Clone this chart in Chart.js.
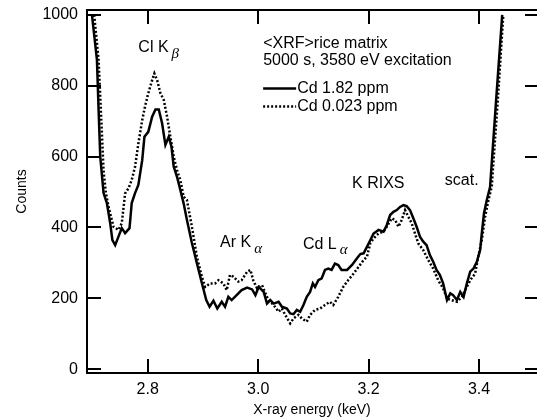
<!DOCTYPE html>
<html>
<head>
<meta charset="utf-8">
<script src="https://cdn.jsdelivr.net/npm/chart.js@4.4.1/dist/chart.umd.min.js"></script>
<style>
  html, body { margin: 0; padding: 0; background: #fff; }
  canvas { display: block; }
</style>
</head>
<body>
<canvas id="chart" width="537" height="420"></canvas>
<script>
// Cd 1.82 ppm (solid)
const solidEnergy = [
  2.699, 2.708, 2.711, 2.714, 2.720, 2.726, 2.732, 2.736, 2.741, 2.747, 2.753, 2.759, 2.767, 2.771,
  2.777, 2.783, 2.790, 2.794, 2.801, 2.808, 2.814, 2.820, 2.826, 2.832, 2.838, 2.843, 2.847, 2.853,
  2.859, 2.865, 2.871, 2.880, 2.889, 2.898, 2.906, 2.912, 2.919, 2.926, 2.934, 2.940, 2.946, 2.952,
  2.961, 2.970, 2.980, 2.989, 2.995, 3.001, 3.010, 3.016, 3.022, 3.028, 3.037, 3.043, 3.052, 3.058,
  3.064, 3.070, 3.076, 3.082, 3.088, 3.094, 3.099, 3.103, 3.109, 3.115, 3.121, 3.127, 3.133, 3.139,
  3.145, 3.151, 3.161, 3.170, 3.179, 3.185, 3.191, 3.197, 3.203, 3.209, 3.218, 3.227, 3.233, 3.239,
  3.245, 3.251, 3.257, 3.263, 3.269, 3.275, 3.281, 3.287, 3.293, 3.299, 3.305, 3.311, 3.317, 3.323,
  3.329, 3.335, 3.342, 3.348, 3.353, 3.360, 3.366, 3.372, 3.378, 3.384, 3.390, 3.396, 3.402, 3.405,
  3.409, 3.414, 3.420, 3.431, 3.442
];
const solidCounts = [
  1000, 873, 732, 600, 497, 469, 412, 364, 350, 374, 398, 384, 398, 469,
  497, 520, 590, 656, 670, 713, 733, 733, 694, 633, 656, 628, 572, 543,
  506, 468, 421, 356, 299, 243, 195, 176, 193, 171, 190, 176, 204, 195,
  209, 223, 230, 225, 209, 232, 218, 185, 195, 185, 190, 176, 171, 157,
  155, 167, 162, 181, 204, 218, 242, 232, 251, 256, 280, 284, 280, 298,
  294, 280, 280, 294, 313, 325, 327, 345, 364, 383, 393, 388, 407, 435,
  444, 449, 458, 463, 460, 449, 426, 402, 374, 360, 350, 322, 303, 280,
  266, 242, 195, 214, 209, 195, 218, 204, 242, 275, 284, 303, 336, 383,
  440, 477, 514, 760, 1000
];

// Cd 0.023 ppm (dotted)
const dottedEnergy = [
  2.703, 2.711, 2.716, 2.720, 2.724, 2.729, 2.738, 2.747, 2.753, 2.759, 2.765, 2.771, 2.777, 2.783,
  2.790, 2.795, 2.801, 2.808, 2.812, 2.817, 2.823, 2.829, 2.835, 2.841, 2.847, 2.853, 2.859, 2.865,
  2.871, 2.880, 2.889, 2.898, 2.904, 2.913, 2.922, 2.928, 2.937, 2.943, 2.949, 2.955, 2.964, 2.970,
  2.980, 2.986, 2.991, 2.998, 3.007, 3.016, 3.019, 3.028, 3.037, 3.043, 3.049, 3.058, 3.064, 3.073,
  3.079, 3.088, 3.094, 3.103, 3.112, 3.121, 3.130, 3.136, 3.145, 3.154, 3.163, 3.173, 3.182, 3.191,
  3.197, 3.203, 3.209, 3.218, 3.227, 3.233, 3.242, 3.248, 3.254, 3.260, 3.266, 3.272, 3.278, 3.284,
  3.290, 3.299, 3.308, 3.317, 3.326, 3.335, 3.342, 3.350, 3.360, 3.369, 3.375, 3.384, 3.393, 3.398,
  3.405, 3.411, 3.417, 3.423, 3.434, 3.444
];
const dottedCounts = [
  1000, 873, 700, 560, 500, 458, 402, 393, 412, 496, 510, 534, 571, 637,
  703, 741, 779, 816, 835, 816, 779, 760, 713, 656, 600, 562, 534, 487,
  477, 402, 317, 261, 232, 242, 242, 251, 242, 223, 266, 261, 247, 251,
  275, 280, 251, 228, 237, 204, 195, 181, 162, 171, 153, 129, 143, 153,
  143, 134, 153, 167, 171, 181, 190, 181, 204, 232, 251, 270, 289, 308,
  317, 355, 369, 383, 388, 402, 426, 421, 402, 421, 449, 430, 412, 383,
  355, 336, 308, 284, 251, 228, 199, 195, 190, 204, 223, 251, 270, 313,
  364, 430, 477, 515, 760, 1000
];

const seriesLabels = ['Cd 1.82 ppm', 'Cd 0.023 ppm'];
const xTicks = [2.8, 3.0, 3.2, 3.4];
const yTicks = [0, 200, 400, 600, 800, 1000];
const titleLines = ['<XRF>rice matrix', '5000 s, 3580 eV excitation'];

// peak labels, anchored in data units: [text, subscript, energy, counts]
const peakLabels = [
  ['Cl K', '\u03b2', 2.783, 907],
  ['Ar K', '\u03b1', 2.931, 356],
  ['Cd L', '\u03b1', 3.081, 352],
  ['K RIXS', '', 3.170, 525],
  ['scat.', '', 3.338, 531]
];

const FONT = "'Liberation Sans', Arial, Helvetica, sans-serif";

function toPoints(xs, ys) {
  return xs.map((x, i) => ({ x: x, y: ys[i] }));
}

const decorPlugin = {
  id: 'decor',
  afterDraw(chart) {
    const ctx = chart.ctx;
    const a = chart.chartArea;
    const xs = chart.scales.x;
    const ys = chart.scales.y;
    ctx.save();
    ctx.setLineDash([]);
    ctx.fillStyle = '#000';

    // top frame line and inward tick marks on all four sides
    ctx.fillRect(a.left - 1, a.top - 1, a.right - a.left + 1, 2);
    yTicks.forEach(v => {
      const p = Math.round(ys.getPixelForValue(v));
      ctx.fillRect(a.left, p - 1, 14, 2);
      ctx.fillRect(a.right - 12, p - 1, 12, 2);
    });
    xTicks.forEach(v => {
      const p = Math.round(xs.getPixelForValue(v));
      ctx.fillRect(p - 1, a.bottom - 14, 2, 14);
      ctx.fillRect(p - 1, a.top, 2, 14);
    });

    ctx.textBaseline = 'middle';
    ctx.textAlign = 'left';

    // title block + legend
    const tx = xs.getPixelForValue(3.009);
    ctx.font = '16px ' + FONT;
    ctx.fillText(titleLines[0], tx, ys.getPixelForValue(918));
    ctx.fillText(titleLines[1], tx, ys.getPixelForValue(870));

    const legendRows = [794, 743];
    chart.data.datasets.forEach((ds, i) => {
      const ly = Math.round(ys.getPixelForValue(legendRows[i])) + 0.5;
      ctx.save();
      ctx.strokeStyle = '#000';
      ctx.lineWidth = ds.borderWidth;
      ctx.setLineDash(ds.borderDash || []);
      ctx.beginPath();
      ctx.moveTo(tx, ly);
      ctx.lineTo(tx + 33, ly);
      ctx.stroke();
      ctx.restore();
      ctx.fillText(ds.label, tx + 34, ly);
    });

    peakLabels.forEach(([txt, sub, ex, cy]) => {
      const px = xs.getPixelForValue(ex);
      const py = ys.getPixelForValue(cy);
      ctx.font = '16px ' + FONT;
      ctx.fillText(txt, px, py);
      if (sub) {
        const w = ctx.measureText(txt).width;
        ctx.font = "italic 15px 'Liberation Serif', 'DejaVu Serif', serif";
        ctx.fillText(sub, px + w + 3, py + 6);
      }
    });
    ctx.restore();
  }
};

new Chart(document.getElementById('chart'), {
  type: 'line',
  data: {
    datasets: [
      {
        label: seriesLabels[0],
        data: toPoints(solidEnergy, solidCounts),
        borderColor: '#000',
        borderWidth: 2.5,
        pointRadius: 0,
        tension: 0,
        fill: false
      },
      {
        label: seriesLabels[1],
        data: toPoints(dottedEnergy, dottedCounts),
        borderColor: '#000',
        borderWidth: 2.5,
        borderDash: [2, 2],
        pointRadius: 0,
        tension: 0,
        fill: false
      }
    ]
  },
  options: {
    responsive: false,
    animation: false,
    layout: { padding: { top: 10, right: 0, left: 0, bottom: 0 } },
    plugins: {
      legend: { display: false },
      tooltip: { enabled: false }
    },
    scales: {
      x: {
        type: 'linear',
        min: 2.69,
        max: 3.505,
        afterBuildTicks: s => { s.ticks = xTicks.map(v => ({ value: v })); },
        afterFit: s => { s.height = 47; s.paddingLeft = 0; s.paddingRight = 0; },
        grid: { display: false, drawTicks: false },
        border: { display: true, color: '#000', width: 2 },
        ticks: {
          color: '#000',
          padding: 7,
          autoSkip: false,
          maxRotation: 0,
          font: { family: FONT, size: 16 },
          callback: v => v.toFixed(1)
        },
        title: {
          display: true,
          text: 'X-ray energy (keV)',
          color: '#000',
          font: { family: FONT, size: 14 },
          padding: { top: 0, bottom: 1 }
        }
      },
      y: {
        min: -11,
        max: 1014,
        afterBuildTicks: s => { s.ticks = yTicks.map(v => ({ value: v })); },
        afterFit: s => { s.width = 87; s.paddingTop = 0; s.paddingBottom = 0; },
        grid: { display: false, drawTicks: false },
        border: { display: true, color: '#000', width: 2 },
        ticks: {
          color: '#000',
          padding: 9,
          font: { family: FONT, size: 16 },
          callback: v => String(v)
        },
        title: {
          display: true,
          text: 'Counts',
          color: '#000',
          font: { family: FONT, size: 14 },
          padding: { top: 14, bottom: 0 }
        }
      }
    }
  },
  plugins: [decorPlugin]
});
</script>
</body>
</html>
